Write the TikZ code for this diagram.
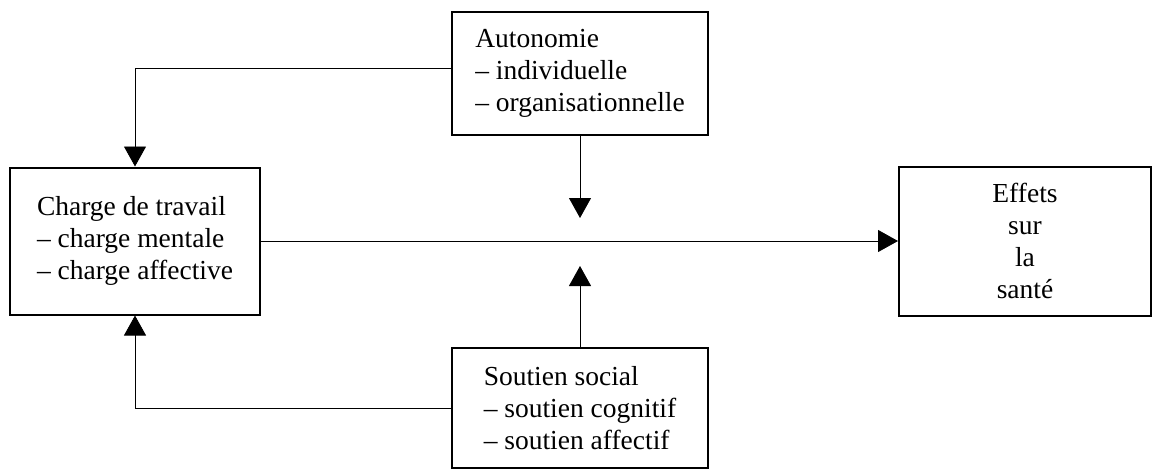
\documentclass[tikz,border=0pt]{standalone}
\usepackage{fontspec}
\setmainfont{Liberation Serif}
\usetikzlibrary{arrows.meta,positioning}

\begin{document}
\begin{tikzpicture}[x=1pt,y=-1pt,
		box/.style={draw=black,line width=2pt,inner sep=0pt,align=left,font=\fontsize{27.5}{32}\selectfont},
		conn/.style={draw=black,line width=0.9pt,-{Triangle[width=22pt,length=20pt]}}]
	\useasboundingbox (0,0) rectangle (1156,474);

	\node[box,minimum width=250pt,minimum height=147pt] (charge) at (135,241)
		{Charge de travail\\-- charge mentale\\-- charge affective};
	\node[box,minimum width=256pt,minimum height=123pt] (autonomie) at (580,73)
		{Autonomie\\-- individuelle\\-- organisationnelle};
	\node[box,minimum width=256pt,minimum height=120pt] (soutien) at (580,408)
		{Soutien social\\-- soutien cognitif\\-- soutien affectif};
	\node[box,align=center,minimum width=252pt,minimum height=149pt] (effets) at (1025,241)
		{Effets\\sur\\la\\santé};

	% free ends of the two moderating arrows
	\coordinate (down) at (580,218);
	\coordinate (up) at (580,266);

	\draw[conn] ([yshift=5pt]autonomie.west) -| (charge.north);
	\draw[conn] (soutien.west) -| (charge.south);
	\draw[conn] (autonomie.south) -- (down);
	\draw[conn] (soutien.north) -- (up);
	\draw[conn] (charge.east) -- (effets.west);
\end{tikzpicture}
\end{document}
